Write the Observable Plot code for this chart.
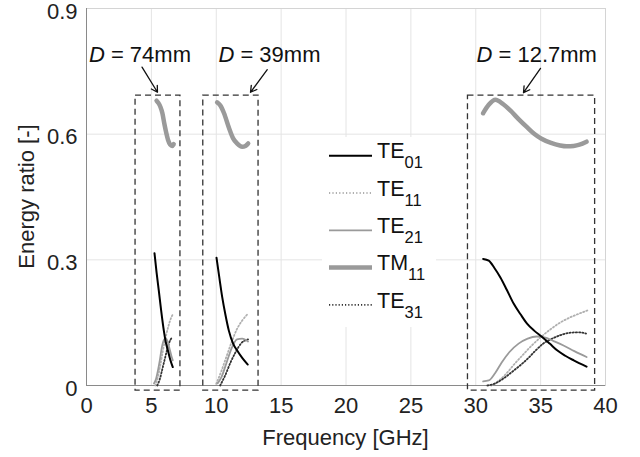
<!DOCTYPE html>
<html><head><meta charset="utf-8">
<script src="https://cdn.jsdelivr.net/npm/d3@7"></script>
<script src="https://cdn.jsdelivr.net/npm/@observablehq/plot@0.6"></script>
<style>body{margin:0;background:#fff}</style>
</head><body><div id="chart"></div>
<script>
// ---- data (frequency GHz, energy ratio) ----
const TE01_74  = [[5.24,0.316],[5.4,0.27],[5.57,0.227],[5.75,0.18],[5.96,0.131],[6.1,0.105],[6.27,0.084],[6.45,0.062],[6.65,0.044]];
const TE01_39  = [[10.02,0.305],[10.25,0.255],[10.46,0.211],[10.7,0.17],[10.97,0.131],[11.3,0.1],[11.6,0.084],[12.0,0.066],[12.43,0.05]];
const TE01_127 = [[30.57,0.302],[31.0,0.298],[31.45,0.28],[31.9,0.258],[32.4,0.228],[32.93,0.195],[33.45,0.17],[33.97,0.147],[34.5,0.131],[35.07,0.117],[35.7,0.1],[36.27,0.084],[36.9,0.071],[37.55,0.06],[38.54,0.045]];

const TM11_74  = [[5.4,0.68],[5.55,0.674],[5.7,0.665],[5.85,0.65],[6.0,0.625],[6.15,0.603],[6.3,0.585],[6.45,0.575],[6.6,0.572],[6.72,0.576]];
const TM11_39  = [[10.07,0.676],[10.33,0.668],[10.6,0.65],[10.97,0.616],[11.3,0.59],[11.6,0.578],[12.0,0.57],[12.25,0.572],[12.46,0.578]];
const TM11_127 = [[30.57,0.65],[31.0,0.67],[31.52,0.682],[32.1,0.672],[32.68,0.656],[33.3,0.636],[33.97,0.616],[34.5,0.601],[35.07,0.589],[35.8,0.579],[36.5,0.573],[37.0,0.571],[37.55,0.572],[38.0,0.575],[38.54,0.582]];

const TE21_74  = [[5.2,0.005],[5.35,0.015],[5.5,0.035],[5.65,0.06],[5.8,0.09],[5.95,0.108],[6.1,0.113],[6.25,0.105],[6.4,0.088],[6.55,0.07],[6.65,0.06]];
const TE21_39  = [[10.1,0.005],[10.4,0.02],[10.8,0.055],[11.2,0.09],[11.6,0.11],[12.0,0.112],[12.45,0.105]];
const TE21_127 = [[30.57,0.01],[31.0,0.012],[31.5,0.03],[32.0,0.055],[32.6,0.08],[33.3,0.1],[34.0,0.112],[34.7,0.117],[35.3,0.115],[36.0,0.106],[36.8,0.095],[37.6,0.082],[38.54,0.068]];

const TE11_74  = [[5.3,0.0],[5.5,0.02],[5.7,0.05],[5.9,0.085],[6.1,0.115],[6.3,0.14],[6.5,0.16],[6.62,0.168]];
const TE11_39  = [[10.0,0.004],[10.4,0.035],[10.8,0.07],[11.2,0.105],[11.6,0.135],[12.0,0.155],[12.43,0.171]];
const TE11_127 = [[31.2,0.0],[31.8,0.012],[32.4,0.03],[33.0,0.052],[33.6,0.072],[34.3,0.095],[35.0,0.115],[35.8,0.135],[36.5,0.15],[37.3,0.163],[38.0,0.172],[38.6,0.179]];

const TE31_74  = [[5.45,0.0],[5.65,0.015],[5.85,0.04],[6.05,0.065],[6.25,0.09],[6.45,0.108],[6.62,0.115]];
const TE31_39  = [[10.3,0.0],[10.7,0.025],[11.1,0.055],[11.5,0.08],[11.9,0.1],[12.45,0.11]];
const TE31_127 = [[30.9,0.0],[31.5,0.005],[32.2,0.018],[32.9,0.035],[33.5,0.05],[34.0,0.064],[34.6,0.083],[35.2,0.1],[35.9,0.112],[36.6,0.121],[37.3,0.126],[38.0,0.127],[38.5,0.124]];

const modes = ["TE01","TE11","TE21","TM11","TE31"];
const diameters = ["74mm","39mm","12.7mm"];
const boxX1 = [3.78, 9.0, 29.4];
const boxX2 = [7.24, 13.26, 39.2];
const boxY1 = -0.012, boxY2 = 0.692;
const labelX = [4.12, 14.1, 34.7];
const labelY = 0.79;
const arrowFrom = [[4.28,0.760],[13.93,0.754],[34.99,0.757]];
const arrowTo   = [[5.47,0.700],[12.64,0.700],[33.68,0.699]];
const xTicks = [0,5,10,15,20,25,30,35,40];
const yTicks = [0,0.3,0.6,0.9];

// ---- styles ----
const style = {
  TE01:{stroke:"#000", w:2.0, dash:null},
  TE11:{stroke:"#b0b0b0", w:1.8, dash:"1.2,2.2"},
  TE21:{stroke:"#9a9a9a", w:1.8, dash:null},
  TM11:{stroke:"#9a9a9a", w:4.5, dash:null},
  TE31:{stroke:"#333", w:1.8, dash:"1.2,2"}
};

const seriesList = {
  TE01:[TE01_74,TE01_39,TE01_127],
  TE11:[TE11_74,TE11_39,TE11_127],
  TE21:[TE21_74,TE21_39,TE21_127],
  TM11:[TM11_74,TM11_39,TM11_127],
  TE31:[TE31_74,TE31_39,TE31_127]
};
const rows = [];
for (const m of modes) seriesList[m].forEach((arr,i) => arr.forEach(([f,v]) => rows.push({mode:m, D:diameters[i], f, v})));
const boxes = diameters.map((D,i) => ({D, x1:boxX1[i], x2:boxX2[i], y1:boxY1, y2:boxY2}));
const labels = diameters.map((D,i) => ({D, x:labelX[i], y:labelY}));
const arrows = diameters.map((D,i) => ({x1:arrowFrom[i][0], y1:arrowFrom[i][1], x2:arrowTo[i][0], y2:arrowTo[i][1]}));

const lineMarks = ["TE11","TE31","TE21","TE01","TM11"].map(m => Plot.line(rows.filter(r => r.mode === m), {
  x:"f", y:"v", z:"D", stroke:style[m].stroke, strokeWidth:style[m].w,
  strokeDasharray:style[m].dash, curve:"monotone-x", strokeLinecap:"round"
}));

const plot = Plot.plot({
  width:640, height:457,
  marginLeft:86, marginRight:35, marginTop:8, marginBottom:72,
  style:{fontFamily:"'Liberation Sans', Arial, sans-serif", fontSize:"22px", color:"#222", background:"#fff"},
  x:{domain:[0,40]},
  y:{domain:[0,0.9]},
  marks:[
    Plot.gridX(xTicks, {stroke:"#e4e4e4", strokeOpacity:1}),
    Plot.gridY(yTicks, {stroke:"#e4e4e4", strokeOpacity:1}),
    Plot.frame({stroke:"#d4d4d4"}),
    Plot.ruleX([0], {stroke:"#8a8a8a"}),
    Plot.ruleY([0], {stroke:"#8a8a8a"}),
    Plot.axisX(xTicks, {tickSize:0, tickPadding:12, label:null, fontSize:22}),
    Plot.axisY(yTicks, {tickSize:0, tickPadding:9, dy:3, label:null, fontSize:22, tickFormat:d => d === 0 ? "0" : d.toFixed(1)}),
    ...lineMarks,
    Plot.rect(boxes, {x1:"x1", x2:"x2", y1:"y1", y2:"y2", fill:"none", stroke:"#333", strokeWidth:1.3, strokeDasharray:"6,4"}),
    Plot.arrow(arrows, {x1:"x1", y1:"y1", x2:"x2", y2:"y2", stroke:"#111", strokeWidth:1.3, headLength:8}),
    Plot.text(labels, {x:"x", y:"y", text:d => "D = " + d.D, fontSize:22, fill:"#111"})
  ]
});

const svg = d3.select(plot);
// italic D in labels
svg.selectAll("text").filter(function(){ return this.textContent.startsWith("D = "); }).each(function(){
  const t = d3.select(this); const s = this.textContent;
  t.text(null);
  t.append("tspan").attr("font-style","italic").text("D");
  t.append("tspan").text(s.slice(1));
});
// axis labels
svg.append("text").attr("transform","translate(34,196.5) rotate(-90)").attr("text-anchor","middle")
  .attr("font-size",22).attr("fill","#222").text("Energy ratio [-]");
svg.append("text").attr("x",345.5).attr("y",445).attr("text-anchor","middle")
  .attr("font-size",22).attr("fill","#222").text("Frequency [GHz]");
// legend
const lg = svg.append("g").attr("text-anchor","start");
lg.append("rect").attr("x",322).attr("y",137).attr("width",114).attr("height",190).attr("fill","#fff");
modes.forEach((m,i) => {
  const y = 155.7 + i*37.3;
  lg.append("line").attr("x1",329).attr("x2",372).attr("y1",y).attr("y2",y)
    .attr("stroke",style[m].stroke).attr("stroke-width",style[m].w)
    .attr("stroke-dasharray",style[m].dash);
  const t = lg.append("text").attr("x",377).attr("y",y+2.6).attr("text-anchor","start").attr("font-size",21.5).attr("fill","#111");
  t.append("tspan").text(m.slice(0,2));
  t.append("tspan").attr("font-size",16.5).attr("dy",10).text(m.slice(2));
});
document.getElementById("chart").appendChild(plot);
</script>
</body></html>
